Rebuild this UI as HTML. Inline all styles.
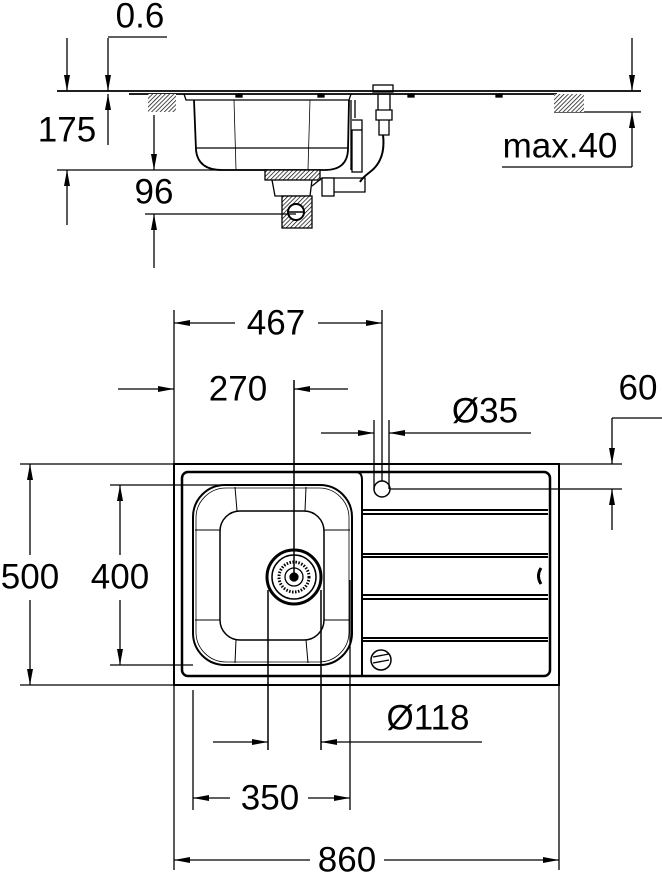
<!DOCTYPE html>
<html><head><meta charset="utf-8"><style>
html,body{margin:0;padding:0;background:#fff}
svg{display:block}
text{font-family:"Liberation Sans",sans-serif;font-size:35px;fill:#000;text-anchor:middle;dominant-baseline:central}
</style></head><body>
<svg width="662" height="874" viewBox="0 0 662 874" xmlns="http://www.w3.org/2000/svg">
<defs>
<marker id="a" viewBox="0 0 16 6" refX="16" refY="3" markerWidth="16" markerHeight="6" markerUnits="userSpaceOnUse" orient="auto-start-reverse"><path d="M0,0L16,3L0,6z" fill="#000"/></marker>
<pattern id="h" width="3" height="3" patternUnits="userSpaceOnUse" patternTransform="rotate(45)"><rect width="3" height="3" fill="#fff"/><line x1="0" y1="0" x2="0" y2="3" stroke="#000" stroke-width="1.4"/></pattern>
</defs>
<g stroke="#000" fill="none" stroke-width="1.3">
<line x1="57" y1="91" x2="641" y2="91" stroke-width="1.8"/>
<line x1="129" y1="94" x2="557" y2="94" stroke-width="1.8"/>
<line x1="554" y1="112" x2="641" y2="112"/>
<rect x="148" y="94" width="28" height="18" fill="url(#h)" stroke="none"/>
<rect x="554" y="94" width="30" height="18" fill="url(#h)" stroke="none"/>
<line x1="57" y1="170" x2="265" y2="170"/>
<path d="M184,94 L186,100 L349,100 L351,94"/>
<path d="M194,100 L196,150 Q198,170 222,170 L325,170 Q347,170 348,150 L349,100" stroke-width="1.8"/>
<line x1="196" y1="148" x2="348" y2="148"/>
<line x1="234" y1="100" x2="236" y2="170" stroke-width="0.8"/>
<line x1="310" y1="100" x2="308" y2="170" stroke-width="0.8"/>
<path d="M355,100 L355,118 M351,100 L351,118 L351,170"/>
<rect x="265" y="170" width="55" height="10" fill="url(#h)" stroke="#000"/>
<path d="M272,180 L275,196 L310,196 L312,180"/>
<rect x="282" y="196" width="30" height="32" fill="url(#h)" stroke="#000"/>
<circle cx="296" cy="212" r="8" fill="#fff" stroke-width="2"/>
<line x1="288" y1="212" x2="304" y2="212" stroke-width="1.5"/>
<path d="M312,186 L322,178 L365,178 L365,192 L322,192"/>
<rect x="322" y="178" width="12" height="18" fill="#fff"/>
<rect x="352" y="130" width="10" height="42"/>
<path d="M352,120 L362,120 L362,130"/>
<rect x="373" y="85" width="20" height="7"/>
<path d="M378,94 L378,110 L390,110 L390,94 M376,110 L392,110 L392,120 L376,120z M379,120 L379,135 L389,135 L389,120"/>
<path d="M383,135 Q386,160 370,172 Q362,178 360,182" stroke-width="2"/>
<rect x="236" y="94" width="6" height="3" fill="#000"/>
<rect x="318" y="94" width="6" height="3" fill="#000"/>
<rect x="408" y="94" width="6" height="3" fill="#000"/>
<rect x="496" y="94" width="6" height="3" fill="#000"/>
<line x1="67" y1="38" x2="67" y2="91" marker-end="url(#a)"/>
<line x1="67" y1="225" x2="67" y2="170" marker-end="url(#a)"/>
<line x1="108" y1="38" x2="108" y2="91" marker-end="url(#a)"/>
<line x1="108" y1="145" x2="108" y2="94" marker-end="url(#a)"/>
<line x1="108" y1="37" x2="167" y2="37"/>
<line x1="154" y1="115" x2="154" y2="170" marker-end="url(#a)"/>
<line x1="154" y1="268" x2="154" y2="214" marker-end="url(#a)"/>
<line x1="145" y1="214" x2="296" y2="214"/>
<line x1="632" y1="38" x2="632" y2="91" marker-end="url(#a)"/>
<line x1="632" y1="167" x2="632" y2="112" marker-end="url(#a)"/>
<line x1="502" y1="167" x2="632" y2="167"/>
<rect x="174" y="464" width="385" height="221" stroke-width="2"/>
<rect x="182" y="472" width="368" height="204" rx="6" stroke-width="2.5"/>
<path d="M356,472 Q362,472 362,480 L362,676" stroke-width="2"/>
<rect x="193" y="485" width="159" height="180" rx="32" stroke-width="2"/>
<rect x="196" y="488" width="153" height="174" rx="30" stroke-width="0.8"/>
<rect x="220" y="511" width="104" height="129" rx="20" stroke-width="1.5"/>
<path d="M235,487 L237,511 M306,487 L305,511 M195,530 L220,530 M324,530 L350,530 M195,620 L220,620 M324,620 L350,620 M236,640 L235,663 M306,640 L308,663" stroke-width="1"/>
<path d="M362,510 L548,510 M362,514 L548,514" stroke-width="2"/>
<path d="M362,554 L548,554 M362,557 L548,557" stroke-width="2"/>
<path d="M362,595 L548,595 M362,599 L548,599" stroke-width="2"/>
<path d="M362,638 L548,638 M362,641 L548,641" stroke-width="2"/>
<circle cx="294" cy="577" r="27" stroke-width="3"/>
<circle cx="294" cy="577" r="22" stroke-width="1.5"/>
<circle cx="294" cy="577" r="15" stroke-width="3" stroke-dasharray="1.5 1.5"/>
<circle cx="294" cy="577" r="9" stroke-width="1.3"/>
<circle cx="294" cy="577" r="4" fill="#000"/>
<circle cx="382" cy="489" r="8" stroke-width="1.5"/>
<circle cx="381" cy="660" r="10" stroke-width="1.5"/>
<path d="M373,657 L389,654 M373,663 L389,660"/>
<path d="M541,568 Q536,576 541,584" stroke-width="3"/>
<line x1="174" y1="310" x2="174" y2="464"/>
<line x1="382" y1="310" x2="382" y2="481"/>
<line x1="294" y1="380" x2="294" y2="577" stroke-width="1.5"/>
<line x1="374" y1="420" x2="374" y2="489"/>
<line x1="389" y1="420" x2="389" y2="489"/>
<line x1="20" y1="464" x2="174" y2="464"/>
<line x1="20" y1="685" x2="174" y2="685"/>
<line x1="559" y1="464" x2="622" y2="464"/>
<line x1="390" y1="489" x2="622" y2="489"/>
<line x1="110" y1="485" x2="294" y2="485"/>
<line x1="110" y1="665" x2="193" y2="665"/>
<line x1="174" y1="685" x2="174" y2="870"/>
<line x1="559" y1="685" x2="559" y2="870"/>
<line x1="193" y1="690" x2="193" y2="810"/>
<line x1="350" y1="580" x2="350" y2="810"/>
<line x1="268" y1="590" x2="268" y2="750" stroke-width="1.5"/>
<line x1="321" y1="590" x2="321" y2="750" stroke-width="1.5"/>
<line x1="235" y1="323" x2="174" y2="323" marker-end="url(#a)"/>
<line x1="318" y1="323" x2="382" y2="323" marker-end="url(#a)"/>
<line x1="118" y1="389" x2="174" y2="389" marker-end="url(#a)"/>
<line x1="348" y1="389" x2="294" y2="389" marker-end="url(#a)"/>
<line x1="321" y1="433" x2="374" y2="433" marker-end="url(#a)"/>
<line x1="531" y1="433" x2="389" y2="433" marker-end="url(#a)"/>
<line x1="612" y1="418" x2="612" y2="464" marker-end="url(#a)"/>
<line x1="612" y1="530" x2="612" y2="489" marker-end="url(#a)"/>
<line x1="612" y1="418" x2="662" y2="418"/>
<line x1="30" y1="555" x2="30" y2="464" marker-end="url(#a)"/>
<line x1="30" y1="600" x2="30" y2="685" marker-end="url(#a)"/>
<line x1="120" y1="555" x2="120" y2="485" marker-end="url(#a)"/>
<line x1="120" y1="600" x2="120" y2="665" marker-end="url(#a)"/>
<line x1="213" y1="742" x2="268" y2="742" marker-end="url(#a)"/>
<line x1="482" y1="742" x2="321" y2="742" marker-end="url(#a)"/>
<line x1="230" y1="798" x2="193" y2="798" marker-end="url(#a)"/>
<line x1="308" y1="798" x2="350" y2="798" marker-end="url(#a)"/>
<line x1="310" y1="860" x2="174" y2="860" marker-end="url(#a)"/>
<line x1="384" y1="860" x2="559" y2="860" marker-end="url(#a)"/>
</g>
<g>
<rect x="2" y="560" width="58" height="34" fill="#fff"/>
<rect x="88" y="560" width="64" height="34" fill="#fff"/>
<text x="140" y="16">0.6</text>
<text x="67" y="130">175</text>
<text x="154" y="192">96</text>
<text x="560" y="146">max.40</text>
<text x="276" y="323">467</text>
<text x="238" y="389">270</text>
<text x="485" y="411">Ø35</text>
<text x="638" y="388">60</text>
<text x="30" y="577">500</text>
<text x="120" y="577">400</text>
<text x="428" y="718">Ø118</text>
<text x="270" y="798">350</text>
<text x="347" y="860">860</text>
</g>
</svg>
</body></html>
